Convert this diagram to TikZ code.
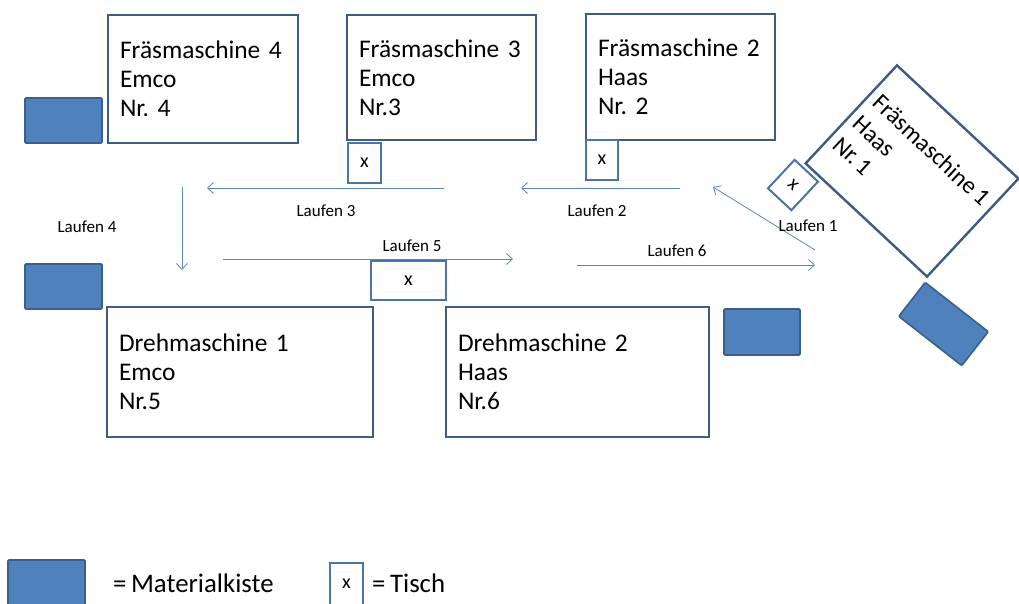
\documentclass[tikz,border=0pt]{standalone}
\usepackage{fontspec}
\setmainfont{Carlito}
\frenchspacing
\usetikzlibrary{arrows.meta}
\definecolor{boxc}{HTML}{3D5B84}
\definecolor{kfill}{HTML}{4F81BD}
\definecolor{kdraw}{HTML}{3A5F8C}
\definecolor{tischc}{HTML}{4A73A6}
\definecolor{arrc}{HTML}{5A86B8}
\begin{document}
\begin{tikzpicture}[x=1pt,y=-1pt,
  machine/.style={draw=boxc, line width=2.4pt, fill=white, align=left,
    inner xsep=12pt, inner ysep=0pt, font={\fontsize{25.4}{29}\selectfont\spaceskip=0.17em\relax}},
  kiste/.style={draw=kdraw, fill=kfill, line width=1.6pt, rounded corners=1pt, inner sep=0pt},
  tisch/.style={draw=tischc, fill=white, line width=2pt, inner sep=0pt, font=\fontsize{20}{24}\selectfont},
  lauf/.style={draw=arrc, line width=0.8pt, -{Straight Barb[length=6pt,width=11pt]}},
  lbl/.style={font=\fontsize{17}{20}\selectfont, inner sep=0pt},
  legtext/.style={font={\fontsize{26.8}{30}\selectfont\spaceskip=0.17em\relax}, anchor=west, inner sep=0pt}]
\useasboundingbox (0,0) rectangle (1019,603);
\clip (0,0) rectangle (1019,603);

% machines
\node[machine, minimum width=190pt, minimum height=128pt, text width=166pt] (F4) at (203,79) {Fräsmaschine 4\\Emco\\Nr. 4};
\node[machine, minimum width=189pt, minimum height=125pt, text width=165pt] (F3) at (441.5,77.5) {Fräsmaschine 3\\Emco\\Nr.3};
\node[machine, minimum width=189pt, minimum height=126pt, text width=165pt] (F2) at (680.5,77) {Fräsmaschine 2\\Haas\\Nr. 2};
\node[machine, minimum width=266pt, minimum height=130pt, text width=242pt] (D1) at (240,372) {Drehmaschine 1\\Emco\\Nr.5};
\node[machine, minimum width=263pt, minimum height=130pt, text width=239pt] (D2) at (577.5,372) {Drehmaschine 2\\Haas\\Nr.6};
\node[machine, rotate=-43, inner xsep=0pt, minimum width=166pt, minimum height=134pt, font={\fontsize{24.2}{29}\selectfont\spaceskip=0.17em\relax}] (F1) at (912,171) {Fräsmaschine 1\\Haas\\Nr. 1};

% tables
\node[tisch, minimum width=33pt, minimum height=40pt] (T3) at (364.5,163) {x};
\node[tisch, minimum width=32pt, minimum height=40pt] (T2) at (602,160) {x};
\node[tisch, minimum width=75pt, minimum height=39pt] (T5) at (408.5,280.5) {x};
\node[tisch, rotate=-43, minimum width=32pt, minimum height=39pt] (T1) at (793,185) {x};

% material boxes
\node[kiste, minimum width=77pt, minimum height=45pt] (K4) at (63.5,120.5) {};
\node[kiste, minimum width=77pt, minimum height=45pt] (K5) at (63.5,286.5) {};
\node[kiste, minimum width=76pt, minimum height=46pt] (K6) at (762,332) {};
\node[kiste, rotate=-38, minimum width=80pt, minimum height=43pt] (K1) at (943.5,324) {};

% walking paths
\coordinate (a1s) at (815,250); \coordinate (a1e) at (713,187);
\coordinate (a2s) at (680,188); \coordinate (a2e) at (521,188);
\coordinate (a3s) at (444,188); \coordinate (a3e) at (207,188);
\coordinate (a4s) at (182,187); \coordinate (a4e) at (182,270);
\coordinate (a5s) at (223,259); \coordinate (a5e) at (513,259);
\coordinate (a6s) at (577,265); \coordinate (a6e) at (815,265);
\draw[lauf] (a1s) -- (a1e);
\draw[lauf] (a2s) -- (a2e);
\draw[lauf] (a3s) -- (a3e);
\draw[lauf] (a4s) -- (a4e);
\draw[lauf] (a5s) -- (a5e);
\draw[lauf] (a6s) -- (a6e);

\node[lbl] (l1) at (808,226) {Laufen 1};
\node[lbl] (l2) at (597,211) {Laufen 2};
\node[lbl] (l3) at (326,211) {Laufen 3};
\node[lbl] (l4) at (87,227) {Laufen 4};
\node[lbl] (l5) at (412,246) {Laufen 5};
\node[lbl] (l6) at (677,251) {Laufen 6};

% legend
\node[kiste, minimum width=77pt, minimum height=45pt] (LK) at (46.5,582.5) {};
\node[legtext] (LKt) at (113,583) {= Materialkiste};
\node[tisch, minimum width=33pt, minimum height=42pt] (LT) at (346.5,584) {x};
\node[legtext] (LTt) at (372,583) {= Tisch};
\end{tikzpicture}
\end{document}
